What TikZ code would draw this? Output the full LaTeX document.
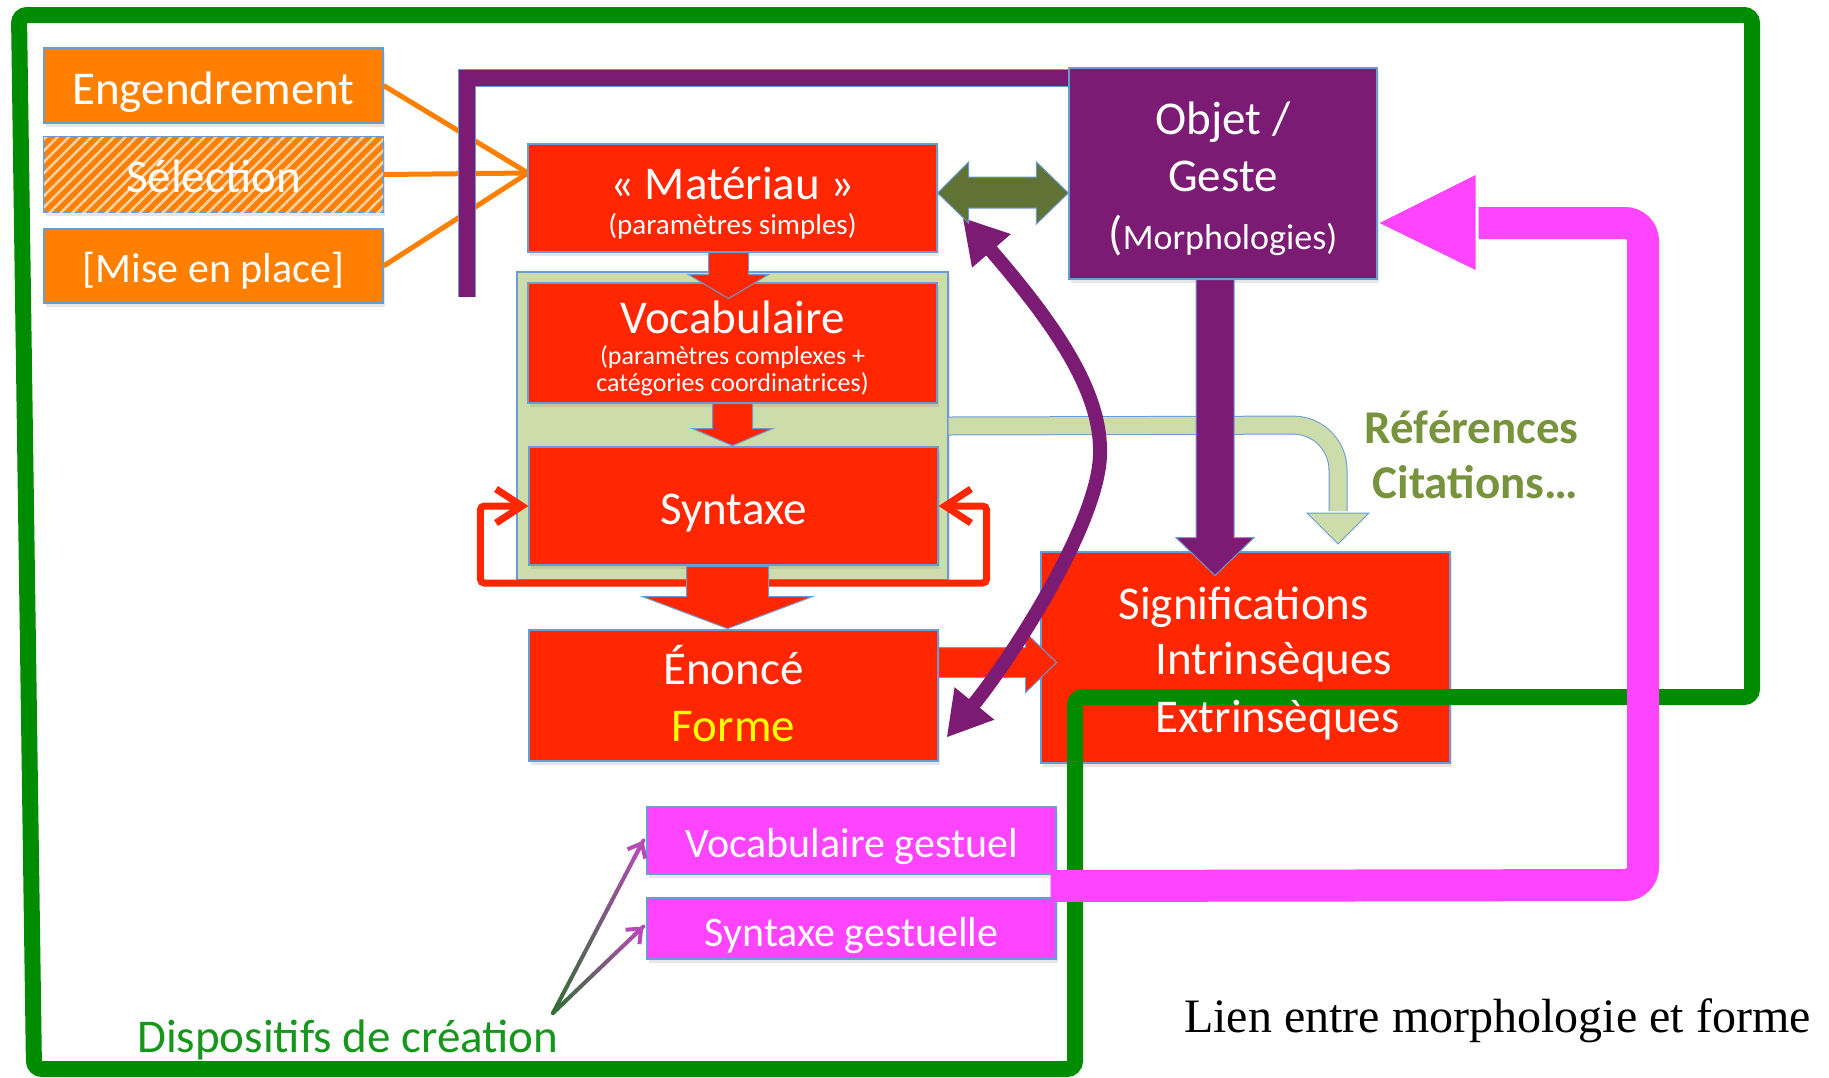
\documentclass[tikz,border=0pt]{standalone}
\usepackage{fontspec}
\setmainfont{Carlito}
\newfontfamily\serifont{Liberation Serif}
\usetikzlibrary{calc,arrows.meta,shadows,patterns.meta}
\newcommand\fsz[2]{\fontsize{#1}{#2}\selectfont}
\definecolor{boxRed}{HTML}{FF2600}
\definecolor{orangeC}{HTML}{FF8000}
\definecolor{hatchC}{HTML}{FFD2A6}
\definecolor{purpleC}{HTML}{7B1B74}
\definecolor{oliveC}{HTML}{617235}
\definecolor{lightG}{HTML}{CCDCAA}
\definecolor{borderB}{HTML}{6A9BD1}
\definecolor{magC}{HTML}{FF44FF}
\definecolor{frameG}{HTML}{008C00}
\definecolor{refC}{HTML}{77933C}
\definecolor{dispG}{HTML}{16961A}
\definecolor{magT}{HTML}{B84AB8}
\definecolor{dgreen}{HTML}{2E7030}
\definecolor{formeY}{HTML}{FFFF00}
\newcommand\blockdn[6]{%
  \filldraw[#6] ($(#1)+(-#2,0)$) -- ($(#1)+(-#2,#3)$) -- ($(#1)+(-#4,#3)$) -- ($(#1)+(0,#3+#5)$) -- ($(#1)+(#4,#3)$) -- ($(#1)+(#2,#3)$) -- ($(#1)+(#2,0)$) -- cycle;}
\tikzset{
  box/.style={draw=borderB, line width=1.2pt, inner sep=0pt,
    drop shadow={shadow xshift=2pt, shadow yshift=-4pt, opacity=0.2}},
  obox/.style={box, fill=orangeC},
  rbox/.style={box, fill=boxRed},
  pbox/.style={box, fill=purpleC},
  mbox/.style={box, fill=magC},
  gbox/.style={box, fill=lightG},
  txt/.style={text=white, inner sep=0pt, anchor=base},
  ltxt/.style={text=white, inner sep=0pt, anchor=base west},
  big/.style={font=\fsz{47}{47}},
  redarrow/.style={fill=boxRed, draw=borderB, line width=1pt},
  purarrow/.style={fill=purpleC, draw=borderB, line width=1pt},
  oline/.style={orangeC, line width=5pt},
}
\begin{document}
\begin{tikzpicture}[x=1pt,y=-1pt]
\useasboundingbox (0,0) rectangle (1829,1077);

% orange boxes and lines (lines go under the purple bracket)
\node[obox, minimum width=339pt, minimum height=75pt] (eng) at (213.5,85.5) {};
\node[box, fill=orangeC, postaction={pattern={Lines[angle=45,distance=8pt,line width=2.5pt]}, pattern color=hatchC},
      minimum width=339pt, minimum height=75pt] (sel) at (213.5,174.5) {};
\node[obox, minimum width=339pt, minimum height=74pt] (mise) at (213.5,266) {};
\coordinate (conv) at (528,173);
\draw[oline] (eng.east) -- (conv);
\draw[oline] (sel.east) -- (conv);
\draw[oline] (mise.east) -- (conv);

% purple bracket
\coordinate (brb) at (467,297);
\coordinate (brt) at (1100,78);
\draw[double=purpleC, double distance=16pt, line width=1pt, draw=borderB] (brb) |- (brt);

% green background
\node[gbox, minimum width=431pt, minimum height=308pt] (gbg) at (732.5,426) {};

% boxes
\node[rbox, minimum width=409pt, minimum height=108pt] (mat) at (732.5,198) {};
\node[rbox, minimum width=409pt, minimum height=120pt] (voc) at (732.5,343) {};
\node[rbox, minimum width=409pt, minimum height=118pt] (syn) at (733.5,506) {};
\node[rbox, minimum width=409pt, minimum height=131pt] (eno) at (733.5,695.5) {};
\node[pbox, minimum width=308pt, minimum height=211pt] (obj) at (1223,173.5) {};
\node[rbox, minimum width=409pt, minimum height=211pt] (sig) at (1245.5,657.5) {};
\node[mbox, minimum width=409pt, minimum height=67pt] (vg) at (851.5,840.5) {};
\node[mbox, minimum width=409pt, minimum height=61pt] (sg) at (851.5,928.5) {};

% red loop around Syntaxe
\draw[boxRed, line width=7pt, line cap=round, rounded corners=4pt,
      arrows={Straight Barb[length=26pt,width=34pt]-Straight Barb[length=26pt,width=34pt]}]
  (syn.west) -- ++(-48,0) -- ++(0,77) -| ($(syn.east)+(48,0)$) -- (syn.east);

% red block arrows
\coordinate (a1) at ($(mat.south)+(-4,0)$);
\blockdn{a1}{20}{22}{40}{24}{redarrow}
\coordinate (a2) at ($(voc.south)+(0,0)$);
\blockdn{a2}{20}{25}{40}{17}{redarrow}
\coordinate (a3) at ($(syn.south)+(-6,1)$);
\blockdn{a3}{41}{30}{85}{32}{redarrow}
\coordinate (es) at ($(eno.east)+(0,-33)$);
\filldraw[redarrow] ($(es)+(0,-15)$) -- ($(es)+(87,-15)$) -- ($(es)+(87,-30)$) -- ($(es)+(118,0)$)
  -- ($(es)+(87,30)$) -- ($(es)+(87,15)$) -- ($(es)+(0,15)$) -- cycle;

% light green references arrow
\coordinate (refbend) at (1338,425);
\coordinate (refend) at (1338,544);
\draw[double=lightG, double distance=17pt, line width=1pt, draw=borderB, rounded corners=45pt]
  (gbg.east) -- (refbend) -- ($(refend)+(0,-33)$);
\filldraw[fill=lightG, draw=borderB, line width=1pt] ($(refend)+(-31,-31)$) -- ($(refend)+(31,-31)$) -- (refend) -- cycle;

% purple down arrow Objet -> Significations
\coordinate (a4) at ($(obj.south)+(-8,0)$);
\blockdn{a4}{19}{258}{39}{38}{purarrow}

% purple curved double arrow
\coordinate (cA) at ($(mat.south east)+(25,-35)$);
\coordinate (cB) at ($(eno.east)+(8,42)$);
\draw[purpleC, line width=14pt,
      arrows={Triangle[length=44pt,width=48pt]-Triangle[length=44pt,width=48pt]}]
  (cA) .. controls (1060,330) and (1102,395) .. (1100,455) .. controls (1098,525) and (1010,660) .. (cB);

% olive double arrow
\coordinate (dl) at ($(mat.east)+(0,-5)$);
\coordinate (dr) at (obj.west |- dl);
\filldraw[fill=oliveC, draw=borderB, line width=1pt]
  (dl) -- ++(31,-31) -- ++(0,15) -- ($(dr)+(-32,-16)$) -- ++(0,-15) -- (dr) -- ++(-32,31) -- ++(0,-16)
  -- ($(dl)+(31,15)$) -- ++(0,15) -- cycle;

% green frame
\draw[frameG, line width=16pt, rounded corners=8pt]
  (19,15) -- (1752,15) -- (1752,697) -- (1075,697) -- (1075,1069) -- (34,1069) -- cycle;

% magenta feedback arrow
\coordinate (mstart) at ($(vg.south east)!0.5!(sg.north east)+(-6,0)$);
\coordinate (mtip) at ($(obj.east)+(2,49.5)$);
\draw[magC, line width=32pt, rounded corners=18pt]
  (mstart) -- (1643,885) -- (1643,223) -- ($(mtip)+(99,0)$);
\fill[magC] ($(mtip)+(96,-48)$) -- (mtip) -- ($(mtip)+(96,47)$) -- cycle;

% ---------- texts ----------
\node[txt, big] (engT) at ($(eng.north)+(0,57)$) {Engendrement};
\node[txt, big] (selT) at ($(sel.north)+(0,56)$) {Sélection};
\node[txt, font=\fsz{42}{42}] (miseT) at ($(mise.north)+(0,54)$) {[Mise en place]};

\node[txt, big] (matA) at ($(mat.north)+(0,56)$) {« Matériau »};
\node[txt, font=\fsz{29}{29}] (matB) at ($(mat.north)+(0,91)$) {(paramètres simples)};

\node[txt, big] (vocA) at ($(voc.north)+(0,51)$) {Vocabulaire};
\node[txt, font=\fsz{26}{26}] (vocB) at ($(voc.north)+(0,82)$) {(paramètres complexes +};
\node[txt, font=\fsz{26}{26}] (vocC) at ($(voc.north)+(0,109)$) {catégories coordinatrices)};

\node[txt, big] (synT) at ($(syn.north)+(0,78)$) {Syntaxe};

\node[txt, big] (enoA) at ($(eno.north)+(0,55)$) {Énoncé};
\node[txt, big, text=formeY] (enoB) at ($(eno.north)+(0,112)$) {Forme};

\node[txt, big] (objA) at ($(obj.north)+(0,67)$) {Objet /};
\node[txt, big] (objB) at ($(obj.north)+(0,124)$) {Geste};
\node[txt] (objC) at ($(obj.north)+(0,182)$) {{\fsz{47}{47}(}{\fsz{36}{36}Morphologies)}};

\node[ltxt, big] (sigA) at ($(sig.north west)+(78,68)$) {Significations};
\node[ltxt, big] (sigB) at ($(sig.north west)+(115,123)$) {Intrinsèques};
\node[ltxt, big] (sigC) at ($(sig.north west)+(115,181)$) {Extrinsèques};

\node[txt, font=\fsz{42}{42}] (vgT) at ($(vg.north)+(0,51)$) {Vocabulaire gestuel};
\node[txt, font=\fsz{42}{42}] (sgT) at ($(sg.north)+(0,49)$) {Syntaxe gestuelle};

\node[anchor=base east, inner sep=0pt, text=refC, font=\bfseries\fsz{47}{47}] (refA) at (1579,443) {Références};
\node[anchor=base east, inner sep=0pt, text=refC, font=\bfseries\fsz{47}{47}] (refB) at (1578,498) {Citations…};

\node[anchor=base west, inner sep=0pt, text=dispG, font=\fsz{47}{47}] (disp) at (137,1052) {Dispositifs de création};

\node[anchor=base west, inner sep=0pt, font=\serifont\fsz{48}{48}] (lien) at (1184,1032) {Lien entre morphologie et forme};

% thin gradient arrows from Dispositifs
\coordinate (dp) at (553,1013);
\coordinate (vtip) at ($(vg.west)+(-3,0)$);
\coordinate (stip) at ($(sg.west)+(-3,-2)$);
\foreach \tg in {vtip,stip}{
  \foreach \i in {0,...,19}{
    \pgfmathtruncatemacro\p{\i*5+2}
    \pgfmathsetmacro\fa{\i/20}
    \pgfmathsetmacro\fb{(\i+1)/20}
    \draw[line width=4pt, line cap=round, color=magT!\p!dgreen] ($(dp)!\fa!(\tg)$) -- ($(dp)!\fb!(\tg)$);
  }
  \draw[magT, line width=4pt, line cap=round, -{Straight Barb[length=12pt,width=20pt]}] ($(dp)!0.9!(\tg)$) -- (\tg);
}
\end{tikzpicture}
\end{document}
